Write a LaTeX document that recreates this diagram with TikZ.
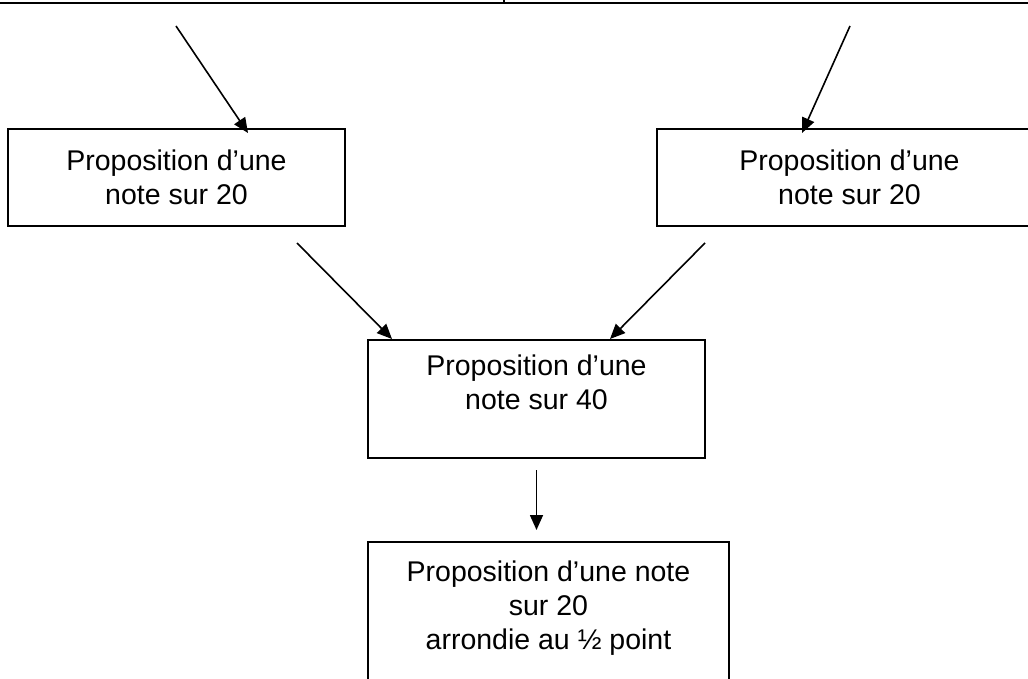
\documentclass[tikz,border=0pt]{standalone}
\usepackage{fontspec}
\setmainfont{Liberation Sans}
\usetikzlibrary{arrows.meta,calc}
\begin{document}
\begin{tikzpicture}[x=1pt,y=-1pt,
  box/.style={draw=black,line width=2pt,inner sep=0pt,align=center,
    font=\fontsize{28.5}{34}\selectfont},
  conn/.style={line width=1.6pt,-{Triangle[length=15pt,width=13pt]}}]
\useasboundingbox (0,0) rectangle (1028,679);
\clip (0,0) rectangle (1028,679);
% top rule
\coordinate (r0) at (0,3);
\coordinate (r1) at (1028,3);
\coordinate (t0) at (504,0);
\coordinate (t1) at (504,3);
\draw[line width=2.6pt] (r0) -- (r1);
\draw[line width=1.3pt] (t0) -- (t1);
% boxes
\node[box,minimum width=337pt,minimum height=97pt] (L) at (176.5,177.5)
  {Proposition d’une\\note sur 20};
\node[box,minimum width=385pt,minimum height=97pt] (R) at (849.5,177.5)
  {Proposition d’une\\note sur 20};
\node[box,minimum width=337pt,minimum height=118pt] (M) at (536.5,399)
  {Proposition d’une\\note sur 40\\[-10pt]\strut};
\node[box,minimum width=361pt,minimum height=170pt] (B) at (548.5,627)
  {Proposition d’une note\\sur 20\\arrondie au ½ point\\\strut};
% free ends
\coordinate (s1) at (176,26);
\coordinate (s2) at (850,26);
\coordinate (s3) at (297,243);
\coordinate (s4) at (705,243);
% connectors
\draw[conn] (s1) -- ([xshift=71.5pt,yshift=-5pt]L.north);
\draw[conn] (s2) -- ([xshift=-47.5pt,yshift=-5pt]R.north);
\draw[conn] (s3) -- ([xshift=-144.5pt]M.north);
\draw[conn] (s4) -- ([xshift=73.5pt]M.north);
\draw[conn,shorten <=11pt,shorten >=11pt] (M.south) -- (M.south |- B.north);
\end{tikzpicture}
\end{document}
